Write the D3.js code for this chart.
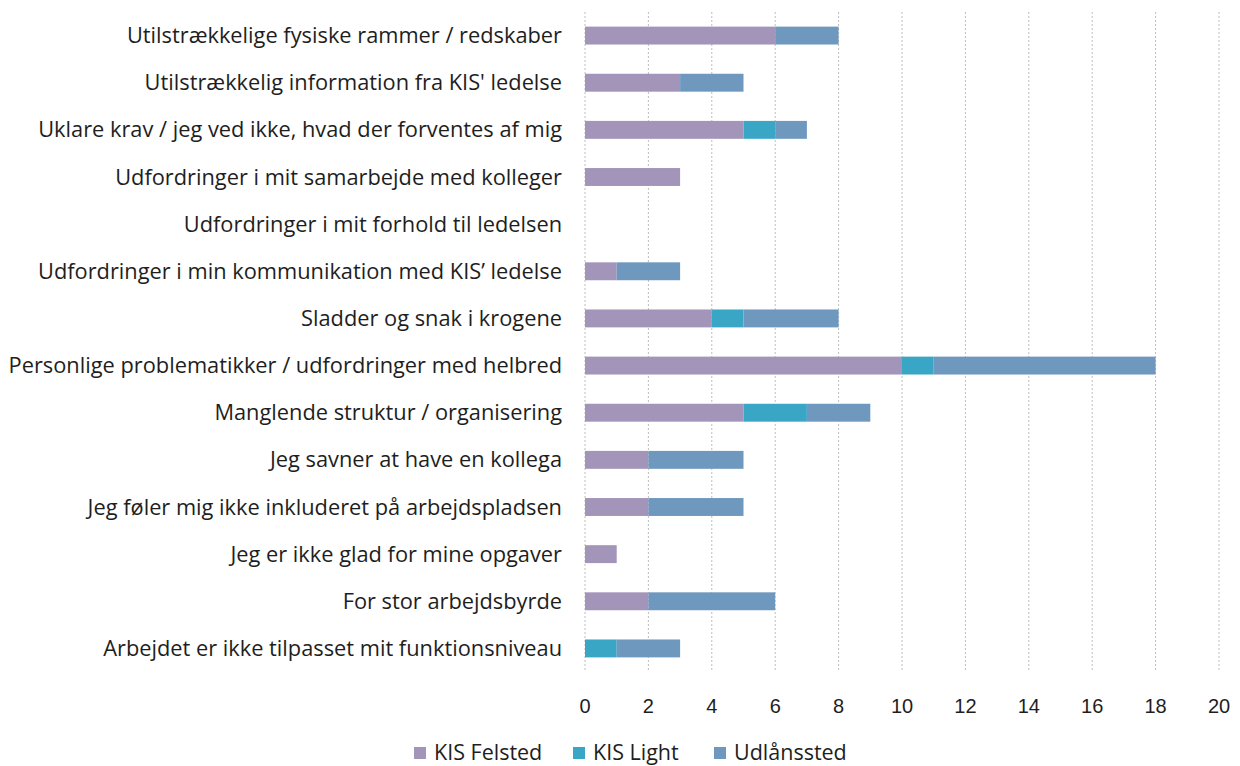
<!DOCTYPE html>
<html>
<head>
<meta charset="utf-8">
<script src="https://cdn.jsdelivr.net/npm/d3@7"></script>
<style>
body{margin:0;background:#fff;}
text{font-family:"Open Sans",sans-serif;fill:#1e1e1e;}
</style>
</head>
<body>
<div id="chart"></div>
<script>
var categories = [
	"Utilstrækkelige fysiske rammer / redskaber",
	"Utilstrækkelig information fra KIS' ledelse",
	"Uklare krav / jeg ved ikke, hvad der forventes af mig",
	"Udfordringer i mit samarbejde med kolleger",
	"Udfordringer i mit forhold til ledelsen",
	"Udfordringer i min kommunikation med KIS’ ledelse",
	"Sladder og snak i krogene",
	"Personlige problematikker / udfordringer med helbred",
	"Manglende struktur / organisering",
	"Jeg savner at have en kollega",
	"Jeg føler mig ikke inkluderet på arbejdspladsen",
	"Jeg er ikke glad for mine opgaver",
	"For stor arbejdsbyrde",
	"Arbejdet er ikke tilpasset mit funktionsniveau"
];
var seriesNames = ["KIS Felsted","KIS Light","Udlånssted"];
var felsted = [6,3,5,3,0,1,4,10,5,2,2,1,2,0];
var light   = [0,0,1,0,0,0,1,1,2,0,0,0,0,1];
var udlaan  = [2,2,1,0,0,2,3,7,2,3,3,0,4,2];
var xTicks = [0,2,4,6,8,10,12,14,16,18,20];
var colors = ["#a395b9","#3aa6c6","#6f98bf"];

var W = 1240, H = 766;
var margin = {top:12,right:21,bottom:94,left:585};
var width = W-margin.left-margin.right, height = H-margin.top-margin.bottom;

var svg = d3.select("#chart").append("svg").attr("width",W).attr("height",H)
	.append("g").attr("transform","translate("+margin.left+","+margin.top+")");

var x = d3.scaleLinear().domain([0,20]).range([0,width]);
var y = d3.scaleBand().domain(categories).range([0,height]).paddingInner(0.62).paddingOuter(0.31);

// grid
svg.selectAll(".grid").data(xTicks).join("line")
	.attr("x1",d=>x(d)).attr("x2",d=>x(d)).attr("y1",0).attr("y2",height)
	.attr("stroke","#bdbdbd").attr("stroke-width",1).attr("stroke-dasharray","2,2");

var table = categories.map(function(c,i){
	return {cat:c,"KIS Felsted":felsted[i],"KIS Light":light[i],"Udlånssted":udlaan[i]};
});
var stacked = d3.stack().keys(seriesNames)(table);

svg.selectAll(".series").data(stacked).join("g")
	.attr("fill",(d,i)=>colors[i])
	.selectAll("rect").data(d=>d).join("rect")
	.attr("x",d=>x(d[0])).attr("width",d=>x(d[1])-x(d[0]))
	.attr("y",d=>y(d.data.cat)).attr("height",y.bandwidth());

// category labels
svg.selectAll(".cat").data(categories).join("text")
	.attr("x",-23).attr("y",d=>y(d)+y.bandwidth()/2).attr("dy","0.35em")
	.attr("text-anchor","end").style("font-size","21.8px").text(d=>d);

// x tick labels
svg.selectAll(".tick").data(xTicks).join("text")
	.attr("x",d=>x(d)).attr("y",height+41)
	.attr("text-anchor","middle")
	.style("font-family","'Liberation Sans',Arial,sans-serif").style("font-size","20px").text(d=>d);

// legend
var legend = d3.select("svg").append("g").attr("transform","translate(0,752)");
var lx = [414,573,714];
seriesNames.forEach(function(s,i){
	legend.append("rect").attr("x",lx[i]).attr("y",-5).attr("width",12).attr("height",12).attr("fill",colors[i]);
	legend.append("text").attr("x",lx[i]+20).attr("y",0).attr("dy","0.35em")
		.style("font-size","21.5px").text(s);
});
</script>
</body>
</html>
